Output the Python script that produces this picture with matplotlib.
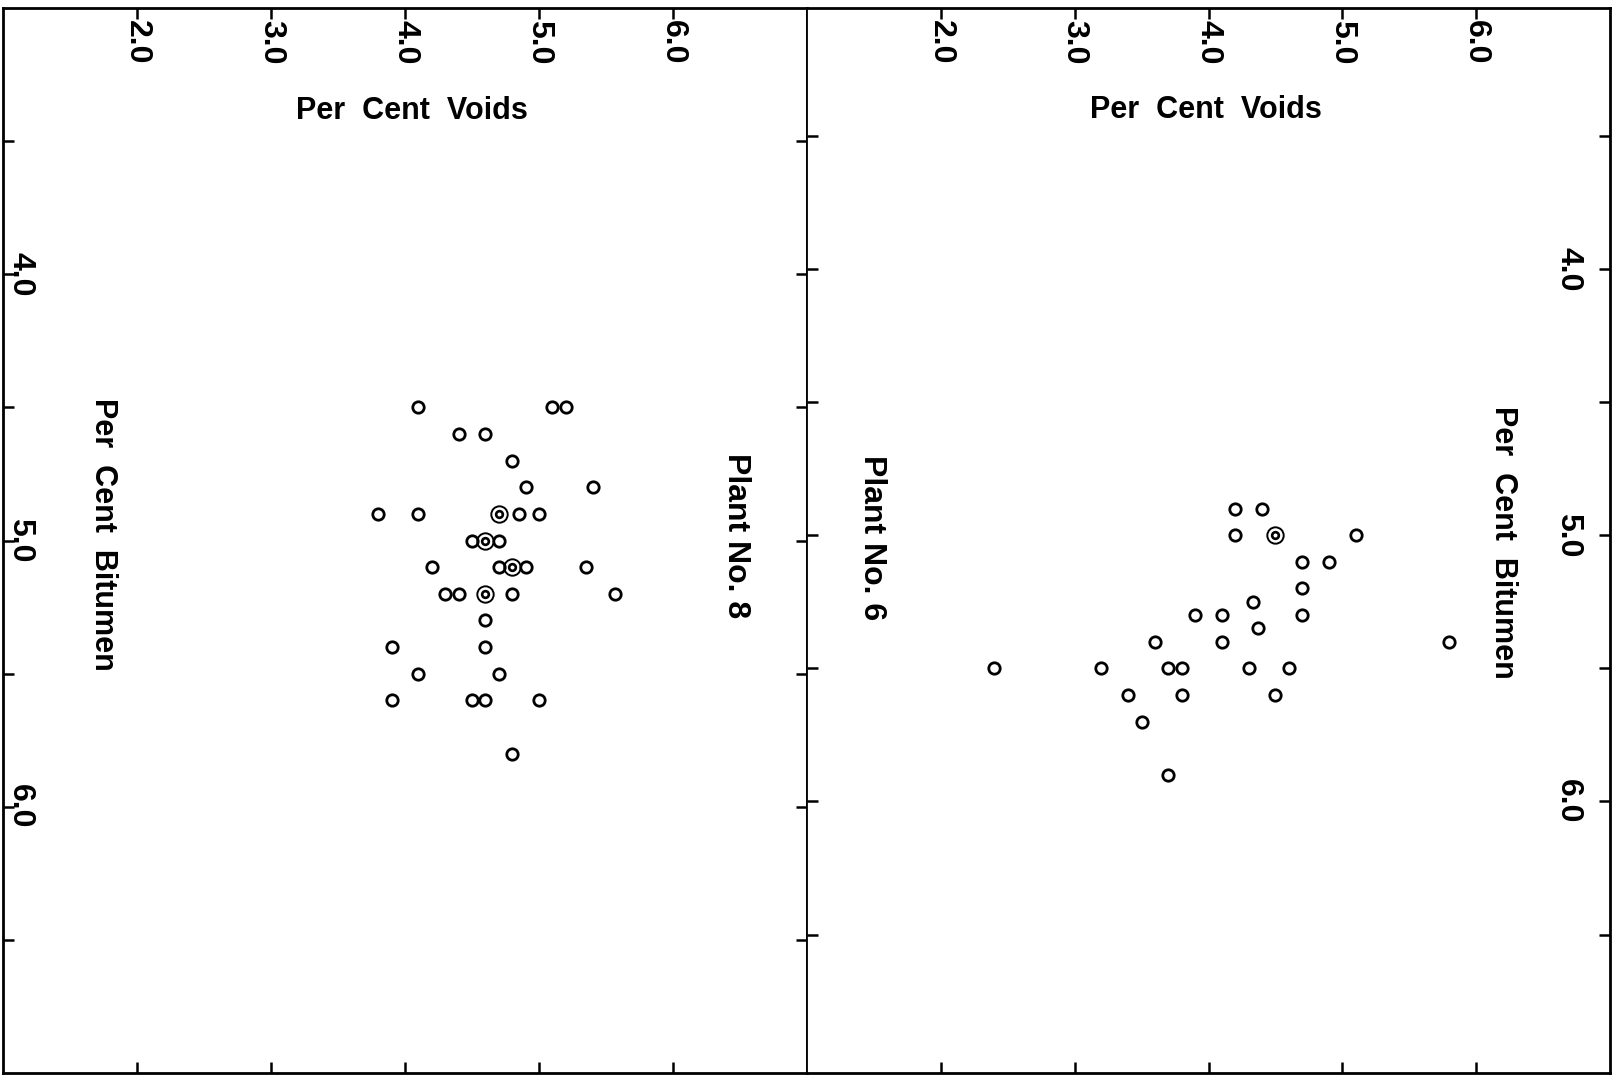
import matplotlib
matplotlib.use("Agg")
import matplotlib.pyplot as plt
from collections import Counter

plt.rcParams["font.family"] = ["Liberation Sans", "DejaVu Sans"]
plt.rcParams["font.weight"] = "bold"

# Plant No. 8 (left panel): each observation, repeated values mean two tests
plant8_voids = [4.1, 5.1, 5.2, 4.4, 4.6, 4.8, 4.9, 5.4,
                3.8, 4.1, 4.7, 4.7, 4.85, 5.0,
                4.5, 4.6, 4.6, 4.7,
                4.2, 4.7, 4.8, 4.8, 4.9, 5.35,
                4.3, 4.4, 4.6, 4.6, 4.8, 5.57,
                4.6, 3.9, 4.6, 4.1, 4.7,
                3.9, 4.5, 4.6, 5.0, 4.8]
plant8_bitumen = [4.5, 4.5, 4.5, 4.6, 4.6, 4.7, 4.8, 4.8,
                  4.9, 4.9, 4.9, 4.9, 4.9, 4.9,
                  5.0, 5.0, 5.0, 5.0,
                  5.1, 5.1, 5.1, 5.1, 5.1, 5.1,
                  5.2, 5.2, 5.2, 5.2, 5.2, 5.2,
                  5.3, 5.4, 5.4, 5.5, 5.5,
                  5.6, 5.6, 5.6, 5.6, 5.8]

# Plant No. 6 (right panel)
plant6_voids = [4.2, 4.4,
                4.2, 4.5, 4.5, 5.1,
                4.7, 4.9,
                4.7, 4.33,
                3.9, 4.1, 4.7, 4.37,
                3.6, 4.1, 5.8,
                2.4, 3.2, 3.7, 3.8, 4.3, 4.6,
                3.4, 3.8, 4.5,
                3.5, 3.7]
plant6_bitumen = [4.9, 4.9,
                  5.0, 5.0, 5.0, 5.0,
                  5.1, 5.1,
                  5.2, 5.25,
                  5.3, 5.3, 5.3, 5.35,
                  5.4, 5.4, 5.4,
                  5.5, 5.5, 5.5, 5.5, 5.5, 5.5,
                  5.6, 5.6, 5.6,
                  5.7, 5.9]

voids_ticks = [2.0, 3.0, 4.0, 5.0, 6.0]
bitumen_ticks = [3.5, 4.0, 4.5, 5.0, 5.5, 6.0, 6.5]
bitumen_labels = ["", "4.0", "", "5.0", "", "6.0", ""]

fig = plt.figure(figsize=(16.17, 10.75), dpi=100)
W, H = 1617, 1075
ax_l = fig.add_axes([3 / W, 2 / H, 804 / W, 1065 / H])
ax_r = fig.add_axes([807 / W, 2 / H, 803 / W, 1065 / H])


def draw_panel(ax, voids, bitumen, side, ylim):
    counts = Counter(zip(voids, bitumen))
    single = [p for p, c in counts.items() if c == 1]
    double = [p for p, c in counts.items() if c > 1]
    ax.plot([p[0] for p in single], [p[1] for p in single], "o", ms=8.2,
            mfc="none", mec="black", mew=2.0)
    ax.plot([p[0] for p in double], [p[1] for p in double], "o", ms=11.8,
            mfc="none", mec="black", mew=1.4)
    ax.plot([p[0] for p in double], [p[1] for p in double], "o", ms=4.8,
            mfc="none", mec="black", mew=1.9)

    ax.set_xlim(1.0, 7.0)
    ax.set_ylim(*ylim)
    for s in ax.spines.values():
        s.set_linewidth(2.0)
    # the shared middle line is drawn thinner
    ax.spines["right" if side == "left" else "left"].set_linewidth(1.3)

    ax.set_xticks(voids_ticks)
    ax.set_xticklabels([f"{v:.1f}" for v in voids_ticks])
    ax.set_yticks(bitumen_ticks)
    ax.set_yticklabels(bitumen_labels)
    ax.tick_params(which="both", direction="in", length=8, width=1.8,
                   top=True, bottom=True, left=True, right=True,
                   labeltop=True, labelbottom=False, labelsize=23)
    ax.tick_params(axis="x", pad=-8.6)
    for lbl in ax.get_xticklabels():
        lbl.set_rotation(-90)
        lbl.set_va("top")
        lbl.set_ha("center")
    if side == "left":
        ax.tick_params(axis="y", labelleft=True, labelright=False, pad=-1.5)
        for lbl in ax.get_yticklabels():
            lbl.set_rotation(-90)
            lbl.set_ha("left")
            lbl.set_va("center")
    else:
        ax.tick_params(axis="y", labelleft=False, labelright=True, pad=-19.4)
        for lbl in ax.get_yticklabels():
            lbl.set_rotation(-90)
            lbl.set_ha("right")
            lbl.set_va("center")


draw_panel(ax_l, plant8_voids, plant8_bitumen, "left", (7.0, 3.0))
draw_panel(ax_r, plant6_voids, plant6_bitumen, "right", (7.02, 3.02))

# titles and axis names, placed in figure pixels
fig.text(412 / W, 1 - 111 / H, "Per  Cent  Voids", fontsize=22,
         ha="center", va="center")
fig.text(1206 / W, 1 - 110 / H, "Per  Cent  Voids", fontsize=22,
         ha="center", va="center")
fig.text(103 / W, 1 - 534 / H, "Per  Cent  Bitumen", fontsize=22,
         ha="center", va="center", rotation=-90)
fig.text(1503 / W, 1 - 542 / H, "Per  Cent  Bitumen", fontsize=22,
         ha="center", va="center", rotation=-90)
fig.text(736 / W, 1 - 536 / H, "Plant No. 8", fontsize=23,
         ha="center", va="center", rotation=-90)
fig.text(872 / W, 1 - 538 / H, "Plant No. 6", fontsize=23,
         ha="center", va="center", rotation=-90)

fig.savefig("out.png", dpi=100)
